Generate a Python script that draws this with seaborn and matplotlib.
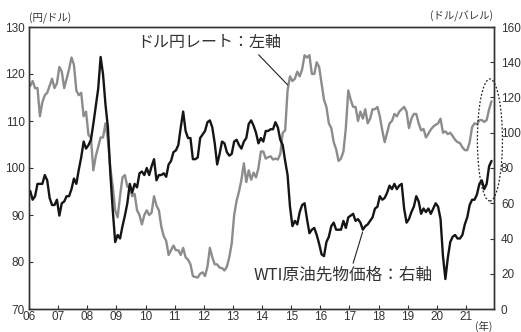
import matplotlib
matplotlib.use("Agg")
import matplotlib.pyplot as plt
import seaborn as sns
import pandas as pd
from matplotlib.patches import Ellipse

# ---- data (monthly, Jan 2006 - Nov 2021) ----
start_year = 2006
usdjpy = [
    117.5, 118.5, 117.0, 117.0, 111.0, 114.0, 115.5, 116.0, 117.5, 119.0, 117.0, 118.0,  # 2006
    121.5, 120.5, 117.0, 119.0, 121.0, 123.5, 122.0, 116.5, 115.5, 116.0, 111.0, 112.0,  # 2007
    107.0, 106.5, 99.5, 102.5, 104.5, 106.5, 106.5, 109.5, 106.0, 100.0, 96.0, 91.0,      # 2008
    89.5, 94.0, 98.0, 98.5, 96.0, 96.0, 94.0, 94.5, 91.0, 90.0, 88.0, 90.0,               # 2009
    91.0, 90.0, 90.5, 94.0, 92.0, 91.0, 87.5, 85.5, 84.5, 81.5, 82.5, 83.5,               # 2010
    82.5, 82.5, 81.5, 83.0, 81.0, 80.5, 79.5, 77.0, 76.8, 76.7, 77.5, 77.8,               # 2011
    77.0, 79.0, 83.0, 81.0, 79.5, 79.5, 78.8, 78.7, 78.2, 79.0, 81.0, 84.0,               # 2012
    90.0, 93.0, 95.0, 97.5, 101.0, 97.0, 99.5, 97.5, 99.0, 98.0, 100.0, 103.5,            # 2013
    103.5, 102.0, 102.3, 102.5, 101.8, 102.0, 101.8, 103.0, 107.5, 108.0, 116.5, 119.5,   # 2014
    118.5, 119.0, 120.5, 119.5, 121.0, 124.0, 123.5, 124.0, 120.0, 120.0, 122.5, 121.5,   # 2015
    118.0, 114.5, 113.0, 109.5, 108.5, 105.5, 104.0, 101.5, 102.0, 103.5, 108.5, 116.5,   # 2016
    114.5, 113.0, 113.0, 110.0, 112.0, 110.5, 112.5, 109.5, 110.5, 112.5, 112.5, 113.0,   # 2017
    111.0, 108.0, 105.5, 107.5, 109.5, 110.0, 111.5, 111.0, 112.0, 112.5, 113.0, 112.0,   # 2018
    108.5, 110.5, 111.5, 111.5, 109.5, 108.0, 108.3, 106.5, 107.3, 108.2, 108.8, 109.2,   # 2019
    109.5, 110.5, 107.5, 107.8, 107.2, 107.5, 106.8, 106.0, 105.5, 105.3, 104.4, 103.8,   # 2020
    103.8, 105.5, 108.7, 109.5, 109.3, 110.2, 110.2, 109.8, 110.2, 112.5, 114.2,          # 2021
]
wti = [
    67, 62, 64, 71, 71, 71, 76, 73, 63, 59, 59, 62,          # 2006
    53, 60, 61, 64, 64, 68, 74, 71, 79, 86, 95, 91,          # 2007
    93, 96, 105, 115, 125, 143, 133, 116, 103, 77, 56, 38,   # 2008
    42, 40, 47, 53, 60, 71, 66, 71, 69, 77, 78, 76,          # 2009
    80, 76, 81, 85, 73, 76, 76, 77, 75, 82, 84, 89,          # 2010
    90, 93, 103, 112, 101, 97, 97, 85, 85, 86, 97, 99,       # 2011
    101, 106, 107, 103, 94, 82, 88, 95, 94, 89, 87, 88,      # 2012
    95, 96, 93, 91, 95, 97, 105, 107, 104, 100, 94, 97,      # 2013
    95, 101, 101, 102, 102, 106, 103, 96, 93, 84, 76, 58,    # 2014
    47, 50, 48, 55, 59, 60, 51, 43, 45, 46, 42, 37,          # 2015
    31, 30, 38, 41, 47, 49, 45, 45, 45, 50, 46, 52,          # 2016
    53, 54, 50, 51, 49, 45, 47, 48, 50, 52, 57, 58,          # 2017
    64, 62, 63, 66, 70, 68, 71, 68, 70, 71, 57, 49,          # 2018
    51, 55, 58, 64, 61, 54, 57, 55, 57, 54, 57, 60,          # 2019
    58, 51, 30, 17, 29, 38, 41, 42, 40, 40, 42, 48,          # 2020
    52, 59, 62, 62, 65, 71, 73, 68, 71, 81, 84,              # 2021
]
tick_years = list(range(2006, 2022))
tick_labels = ["06", "07", "08", "09", "10", "11", "12", "13", "14", "15",
               "16", "17", "18", "19", "20", "21"]
left_ticks = [70, 80, 90, 100, 110, 120, 130]
right_ticks = [0, 20, 40, 60, 80, 100, 120, 140, 160]
label_fx = "ドル円レート：左軸"
label_oil = "WTI原油先物価格：右軸"

t = [start_year + (i + 0.5) / 12 for i in range(len(usdjpy))]
df = pd.DataFrame({"t": t, "usdjpy": usdjpy, "wti": wti})

sns.set_theme(style="white")
plt.rcParams['font.family'] = ['Noto Sans CJK JP', 'DejaVu Sans']
txt = "#333333"
numfont = ['Liberation Sans', 'DejaVu Sans']

fig = plt.figure(figsize=(5.21, 3.32), dpi=100)
ax = fig.add_axes([29 / 521, 1 - 309 / 332, 465 / 521, 282 / 332])
ax2 = ax.twinx()

sns.lineplot(data=df, x="t", y="usdjpy", ax=ax, color="#8c8c8c", lw=1.7)
sns.lineplot(data=df, x="t", y="wti", ax=ax2, color="#151515", lw=1.7)

ax.set_xlim(2006, 2021.96)
ax.set_ylim(70, 130)
ax2.set_ylim(0, 160)
ax.set_xticks(tick_years)
ax.set_xticklabels(tick_labels)
ax.set_yticks(left_ticks)
ax2.set_yticks(right_ticks)
for a in (ax, ax2):
    a.set_xlabel("")
    a.set_ylabel("")
    for s in a.spines.values():
        s.set_color("#333333")
        s.set_linewidth(1.0)
ax.tick_params(axis="x", direction="in", length=3, width=0.8, color="#333333",
               pad=1.5, labelsize=8.5, labelcolor=txt, bottom=True)
ax.tick_params(axis="y", direction="in", length=3, width=0.8, color="#333333",
               pad=3, labelsize=8.5, labelcolor=txt, left=True)
ax2.tick_params(axis="y", direction="in", length=3, width=0.8, color="#333333",
                pad=5, labelsize=8.5, labelcolor=txt, right=True)
for lab in ax.get_xticklabels() + ax.get_yticklabels() + ax2.get_yticklabels():
    lab.set_family(numfont)

# unit labels
fig.text(29 / 521, 1 - 18 / 332, "(円/ドル)", ha="left", va="center",
         fontsize=7.5, color=txt)
fig.text(493 / 521, 1 - 16 / 332, "(ドル/バレル)", ha="right", va="center",
         fontsize=7.5, color=txt)
fig.text(484 / 521, 1 - 326 / 332, "(年)", ha="center", va="center",
         fontsize=7.5, color=txt)

# annotations
ax.annotate(label_fx, xy=(2014.875, 117.7), xytext=(2009.72, 126.6),
            ha="left", va="center", fontsize=11.5, color=txt,
            arrowprops=dict(arrowstyle="-", color="#222222", lw=0.8,
                            shrinkA=0, shrinkB=0, relpos=(0.82, 0.0)))
ax2.annotate(label_oil, xy=(2017.45, 43.7), xytext=(2013.71, 19.3),
             ha="left", va="center", fontsize=12, color=txt,
             arrowprops=dict(arrowstyle="-", color="#222222", lw=0.8,
                             shrinkA=0, shrinkB=0, relpos=(0.55, 1.0)))

ell = Ellipse((2021.82, 105.96), width=0.86, height=25.96, fill=False,
              edgecolor="#222222", lw=0.9, linestyle=(0, (1.5, 1.5)),
              clip_on=False, zorder=5)
ax2.add_patch(ell)
ell.set_transform(ax.transData)

fig.savefig("out.png", dpi=100)
